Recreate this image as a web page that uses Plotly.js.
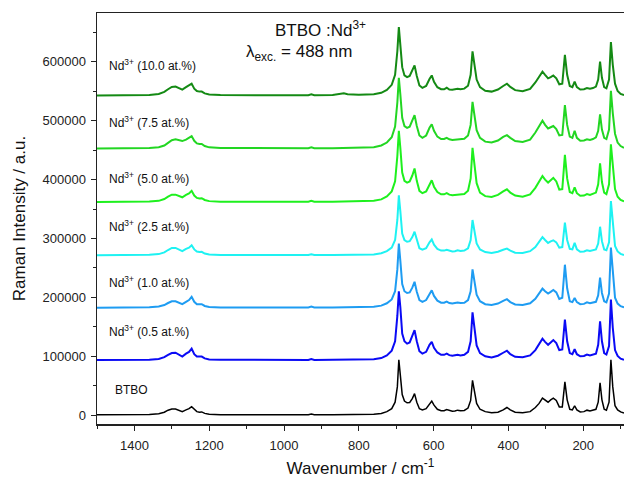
<!DOCTYPE html>
<html>
<head>
<meta charset="utf-8">
<script src="https://cdn.plot.ly/plotly-3.0.1.min.js"></script>
<style>html,body{margin:0;padding:0;background:#fff;}#chart{width:624px;height:480px;}</style>
</head>
<body>
<div id="chart"></div>
<script>
// Shared wavenumber grid (cm^-1)
const wavenumber = [1500,1420,1360,1335,1320,1310,1300,1290,1280,1272,1262,1254,1247,1240,1233,1226,1220,1212,1200,1170,1100,1000,935,927,919,870,850,840,830,800,760,740,725,712,703,697,693,689,684,678,671,664,657,651,645,638,630,620,611,605,599,590,580,572,565,558,550,543,536,528,518,508,501,496,491,485,476,462,445,428,414,404,395,382,362,342,328,318,309,302,294,287,280,272,264,256,249,243,236,229,223,217,208,198,190,182,174,166,160,155,150,144,138,131,126,121,115,108,100,91];

const seriesNames = ["BTBO","Nd3+ (0.5 at.%)","Nd3+ (1.0 at.%)","Nd3+ (2.5 at.%)","Nd3+ (5.0 at.%)","Nd3+ (7.5 at.%)","Nd3+ (10.0 at.%)"];
const seriesOffsets = [0, 93500, 182500, 271500, 362000, 453000, 543000];

const btbo = [500,700,1200,2500,5000,8500,10500,10500,8000,6000,9000,11000,14500,9500,6000,5000,5500,3000,1500,800,600,600,700,2000,700,700,800,800,800,900,1500,3000,6000,11000,22000,48000,94000,68000,35000,24000,21000,21500,28000,36500,22000,11000,9000,11000,20000,24000,17000,10000,7500,7500,9500,7500,6500,7000,8500,7500,8000,12000,25000,59000,42000,20000,10000,6000,4000,5000,9000,13000,9000,5000,4000,6000,13000,20000,29000,26000,22000,26000,29000,25000,14000,14000,56500,26000,10000,9000,16000,9000,5500,6000,8500,7000,9000,10000,22000,55000,26000,10000,8500,22000,94000,48000,16000,9000,5500,3500];

const nd05 = [0,300,800,2000,5000,9000,12000,12500,9000,6000,11000,14000,19500,10000,6000,5500,6000,3000,1200,500,300,300,400,2000,400,500,500,500,500,700,1500,3500,8000,16000,32000,75000,117000,90000,45000,32000,28000,30000,40000,51000,32000,15000,11000,14000,26000,31000,21000,13000,9000,9000,11000,8500,7500,8000,9000,8000,9000,14000,32000,81000,58000,25000,12000,6500,4500,7500,12500,16000,10000,5500,5000,8000,17000,27000,36500,31000,26000,30000,34000,29000,17000,18000,69000,32000,12000,10000,18500,10000,6500,7000,9500,8000,9500,11000,26000,66000,32000,12000,9500,24000,103000,55000,17000,7000,2500,500];

const nd10 = [0,300,800,2000,4500,8000,11000,11000,8000,6000,10000,13000,18500,10000,6000,5500,6000,3000,1200,500,300,300,400,1800,400,500,500,500,500,700,1500,3500,7500,14000,28000,65000,109000,80000,40000,28000,25000,26000,34000,44000,27000,13000,10000,13000,24000,29500,20000,12000,8500,8500,10500,8000,7000,7500,9000,8000,8500,13000,28000,65000,47000,22000,11000,6000,4500,7000,11500,14500,9500,5500,4500,7500,15000,24000,32500,28000,24000,27000,30000,26000,15000,17000,73000,33000,11000,9500,16500,9500,6000,6500,9000,7500,9000,10000,21000,51000,25000,11000,9000,24000,102000,55000,17000,7000,2500,500];

const nd25 = [0,300,800,2000,5000,9000,12500,12500,9000,7000,11000,13000,17000,10000,6500,5500,6000,3000,1200,500,300,300,400,1800,400,500,500,500,500,700,1500,3500,7000,13000,26000,60000,102000,75000,37000,26000,23000,24000,31000,40000,25000,12000,9500,12000,22000,27000,18000,11000,8000,8000,9500,7500,6500,7000,8500,7500,8000,12000,26000,60000,43000,20000,10000,5500,4000,6000,9500,11500,8000,4500,4000,7000,14000,23000,31000,26000,21000,23500,25500,22000,13000,14000,55500,26000,11000,10000,21000,10000,6000,6500,8500,7500,8500,10000,20000,48500,24000,10000,8500,22000,92000,50000,16000,6500,2500,500];

const nd50 = [0,300,800,2000,5000,9000,12500,12500,9500,8000,12000,14500,19000,11000,7000,6000,6500,3500,1500,600,300,300,400,2000,400,500,600,700,600,800,2000,4500,9500,18000,35000,78000,121000,92000,50000,36000,33000,35000,45000,57000,36000,19000,15000,18000,31000,37000,26000,17000,13000,13000,15000,12500,11500,12000,13000,12500,13500,19000,40000,92000,68000,32000,16000,10000,8500,12000,18000,21500,16000,11000,9000,13000,24000,35000,44000,38000,33000,37000,41000,35000,21000,22000,80000,40000,17000,15000,25000,15000,10500,11000,13500,12000,13500,16000,30000,65500,34000,16000,13500,30000,98000,58000,22000,9000,3500,1000];

const nd75 = [0,300,800,2000,5000,9500,14000,15500,13500,12500,15000,17500,21000,13000,8500,7500,7500,4000,1800,700,300,300,400,1800,400,500,600,700,600,800,2000,5000,10000,19000,37000,78000,120000,92000,52000,38000,35000,37000,46000,56500,38000,22000,18000,22000,35000,41000,30000,20000,16000,16000,18000,15500,14500,15000,16000,15500,16500,22000,40000,79000,60000,31000,18000,11500,10000,13500,19500,22500,18000,12500,11000,15000,27000,38000,47000,40000,34000,36000,38000,33000,22000,23000,73500,40000,20000,18000,30000,18000,13000,13500,15500,14500,16000,19000,30000,58000,32000,18000,16000,32000,98000,60000,25000,10000,4000,1000];

const nd100 = [0,300,800,2500,6000,10500,14500,15000,12000,10000,14000,16500,20000,11500,7500,6500,6500,3500,1500,600,300,300,400,1800,400,800,2500,3500,2200,1000,2000,4500,9500,18000,35000,75000,116000,88000,48000,34000,31000,33000,42000,51000,33000,17000,13000,16000,28000,34000,23000,14000,10500,10500,13000,10000,9500,10500,11500,10500,11500,16500,35000,75000,55000,27000,14000,8000,6500,10000,16000,20000,14500,9000,7000,11000,22000,32000,40500,35000,29000,31000,34000,29000,19000,20000,69000,35000,16000,14000,23500,14000,10000,10500,12500,11500,12500,15000,27000,57500,30000,14000,12000,27000,90500,52000,20000,7500,2500,500];

const seriesData = [btbo, nd05, nd10, nd25, nd50, nd75, nd100];
const seriesColors = ["#000000","#0a0af5","#1e9cf2","#1ef2f2","#1ef01e","#22d622","#148a14"];
const seriesWidths = [1.5,2,2,2,2,2,2];

const yTickVals = [0,100000,200000,300000,400000,500000,600000];
const xTickVals = [1400,1200,1000,800,600,400,200];

const traces = seriesData.map((vals, i) => ({
  type: "scatter",
  mode: "lines",
  x: wavenumber,
  y: vals.map(v => v + seriesOffsets[i]),
  name: seriesNames[i],
  line: {color: seriesColors[i], width: seriesWidths[i]},
  hoverinfo: "skip",
  showlegend: false
}));

const FONT = "Arial, 'Liberation Sans', sans-serif";
const L = 97, R = 624, T = 13, B = 424;
const px = x => (x - L) / (R - L);
const py = y => (B - y) / (B - T);

const labelSpecs = [
  {text: "Nd<sup>3+</sup> (10.0 at.%)", x: 107, y: 65},
  {text: "Nd<sup>3+</sup> (7.5 at.%)", x: 107, y: 122},
  {text: "Nd<sup>3+</sup> (5.0 at.%)", x: 107, y: 178},
  {text: "Nd<sup>3+</sup> (2.5 at.%)", x: 107, y: 226},
  {text: "Nd<sup>3+</sup> (1.0 at.%)", x: 107, y: 282},
  {text: "Nd<sup>3+</sup> (0.5 at.%)", x: 107, y: 331},
  {text: "BTBO", x: 113, y: 390}
];

const annotations = labelSpecs.map(s => ({
  xref: "paper", yref: "paper", x: px(s.x), y: py(s.y),
  xanchor: "left", yanchor: "middle", showarrow: false,
  text: s.text, font: {family: FONT, size: 12, color: "#111"}
}));
annotations.push({
  xref: "paper", yref: "paper", x: px(320), y: py(29),
  xanchor: "center", yanchor: "middle", showarrow: false,
  text: "BTBO :Nd<sup>3+</sup>", font: {family: FONT, size: 17, color: "#111"}
});
annotations.push({
  xref: "paper", yref: "paper", x: px(244), y: py(53),
  xanchor: "left", yanchor: "middle", showarrow: false,
  text: "λ<sub>exc.</sub> = 488 nm", font: {family: FONT, size: 17, color: "#111"}
});

const layout = {
  width: 624, height: 480,
  margin: {l: L, r: 624 - R, t: T, b: 480 - B},
  paper_bgcolor: "#fff", plot_bgcolor: "#fff",
  showlegend: false,
  font: {family: FONT, color: "#111"},
  xaxis: {
    range: [1500, 91],
    tickvals: xTickVals,
    ticks: "outside", ticklen: 5, tickwidth: 1, tickcolor: "#222",
    minor: {dtick: 100, tick0: 0, ticks: "outside", ticklen: 3, tickcolor: "#222", showgrid: false},
    showline: true, linecolor: "#222", linewidth: 1.5, mirror: true,
    showgrid: false, zeroline: false,
    ticklabelstandoff: 4,
    tickfont: {family: FONT, size: 13, color: "#222"},
    title: {text: "Wavenumber / cm<sup>-1</sup>", font: {family: FONT, size: 17, color: "#111"}, standoff: 10}
  },
  yaxis: {
    range: [-15000, 683000],
    tickvals: yTickVals, tickformat: "d",
    ticks: "outside", ticklen: 5, tickwidth: 1, tickcolor: "#222",
    minor: {dtick: 50000, tick0: 0, ticks: "outside", ticklen: 3, tickcolor: "#222", showgrid: false},
    showline: true, linecolor: "#222", linewidth: 1.5, mirror: false,
    showgrid: false, zeroline: false,
    ticklabelstandoff: 2,
    tickfont: {family: FONT, size: 13, color: "#222"},
    title: {text: "Raman Intensity / a.u.", font: {family: FONT, size: 17, color: "#111"}, standoff: 12}
  },
  annotations: annotations
};

Plotly.newPlot("chart", traces, layout, {staticPlot: true, displayModeBar: false});
</script>
</body>
</html>
